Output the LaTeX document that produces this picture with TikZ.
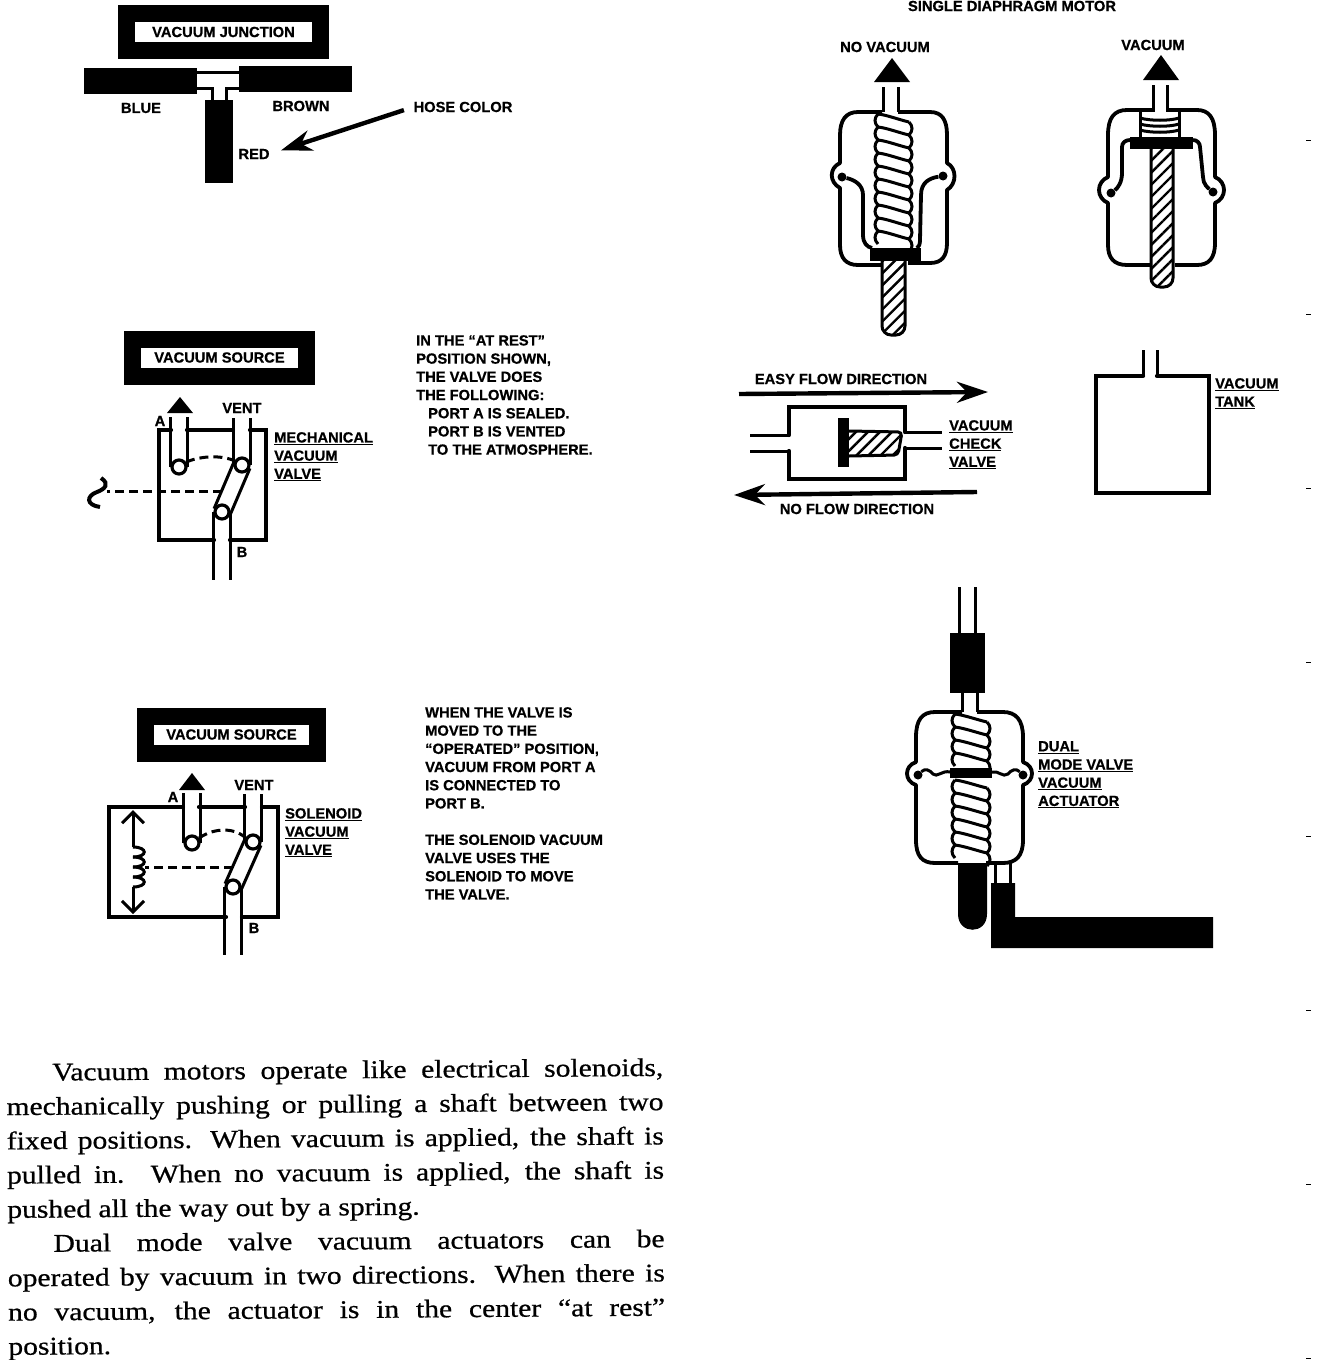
\documentclass[tikz,border=0pt]{standalone}
\usepackage{fontspec}
\setmainfont{Liberation Sans}[BoldFeatures={FakeBold=0.7}]
\newfontfamily\bodyfont[FakeStretch=1.16,FakeBold=0.7]{Liberation Serif}
\usepackage{tikz}
\usetikzlibrary{arrows.meta,patterns.meta,positioning}
\newcommand{\lblfont}{\fontsize{14.7}{18.2}\selectfont\bfseries}
\newcommand{\coilspring}[5]{%
\foreach \n in {1,...,#5} {
\pgfmathsetmacro{\ya}{#3+(\n-1)*#4}
\draw[coilline] (#1,\ya) .. controls (#1+9,\ya+1) and (#2-9,\ya+6) .. (#2,\ya+8);
\draw[coilline] (#1,\ya) .. controls (#1-4,\ya+4) and (#1-4,\ya+#4-4) .. (#1,\ya+#4);
\draw[coilline] (#2,\ya+8) .. controls (#2+4,\ya+12) and (#2+4,\ya+#4+4) .. (#2,\ya+#4+8);
}}
\begin{document}
\begin{tikzpicture}[x=1pt,y=-1pt,
label/.style={inner sep=0pt, font=\lblfont},
tag/.style={inner sep=0pt, anchor=north west, align=left, font=\lblfont},
banner/.style={rectangle, draw, fill=white, line width=17pt, minimum height=37pt, inner sep=0pt, font=\lblfont},
pipe/.style={line width=3pt},
wall/.style={line width=4.2pt, line cap=round},
shell/.style={line width=3.8pt, line join=round},
coilline/.style={line width=3pt},
port/.style={circle, draw, fill=white, line width=3.2pt, minimum size=14pt, inner sep=0pt},
pin/.style={circle, fill=black, minimum size=9pt, inner sep=0pt},
rod/.style={draw, line width=3pt, rounded corners=9pt, pattern={Lines[angle=45,distance=8.5pt,line width=2.4pt]}},
link/.style={line width=3pt, dash pattern=on 9pt off 5pt},
flow/.style={line width=4.4pt, -{Stealth[length=31pt,width=21pt]}}
]
\useasboundingbox (0,0) rectangle (1328,1360);
\node[banner, minimum width=194pt] (junction) at (223.5,32) {\raisebox{-1pt}{VACUUM JUNCTION}};
\fill (84,68) rectangle (197,94);
\fill (239,66) rectangle (352,92);
\fill (205,100) rectangle (233,183);
\draw[pipe] (197,72) -- (239,72);
\draw[pipe] (197,88) -- (212,88) -- (212,100);
\draw[pipe] (239,88) -- (226,88) -- (226,100);
\node[label] (blue) at (141,108) {BLUE};
\node[label] (brown) at (301,106) {BROWN};
\node[label] (red) at (254,154) {RED};
\node[label] (hosecolor) at (463,107) {HOSE COLOR};
\draw[flow, shorten >=12pt, shorten <=10pt] (hosecolor.west) -- (red.east);

\node[banner, minimum width=174pt] (source1) at (219.5,357.5) {\raisebox{-1.5pt}{VACUUM SOURCE}};
\node[port] (a1) at (179,467) {};
\node[port] (vent1) at (242,465) {};
\node[port] (b1) at (222,512) {};
\fill (180,397) -- (167,413) -- (193,413) -- cycle;
\draw[pipe] (a1.west) -- ++(0,-50);
\draw[pipe] (a1.east) -- ++(0,-50);
\draw[pipe] (vent1.west) -- ++(0,-47);
\draw[pipe] (vent1.east) -- ++(0,-47);
\draw[pipe] (b1.157) -- (vent1.157);
\draw[pipe] (b1.-23) -- (vent1.-23);
\draw[pipe] (b1.west) -- ++(0,68);
\draw[pipe] (b1.east) -- ++(0,68);
\draw[wall] (171,430) -- (159,430) -- (159,540) -- (214,540);
\draw[wall] (230,540) -- (266,540) -- (266,430) -- (250,430);
\draw[wall] (187,430) -- (233,430);
\draw[link] (a1.35) .. controls (198,457) and (218,454) .. (vent1.150);
\draw[link] (b1 |- 0,491) -- (107,491);
\draw[line width=4pt] (101,478) .. controls (110,484) and (105,489) .. (97,492) .. controls (86,496) and (86,505) .. (100,507);
\node[label] (vent1txt) at (242,408) {VENT};
\node[label] (a1txt) at (160,421) {A};
\node[label] (b1txt) at (242,552) {B};
\node[tag] (mech) at (274,432) {\underline{MECHANICAL}\\\underline{VACUUM}\\\underline{VALVE}};
\node[tag] (rest) at (416,335) {IN THE “AT REST”\\POSITION SHOWN,\\THE VALVE DOES\\THE FOLLOWING:\\\hspace*{12pt}PORT A IS SEALED.\\\hspace*{12pt}PORT B IS VENTED\\\hspace*{12pt}TO THE ATMOSPHERE.};

\node[banner, minimum width=172pt] (source2) at (231.5,734.5) {\raisebox{-1.5pt}{VACUUM SOURCE}};
\node[port] (a2) at (192,843) {};
\node[port] (vent2) at (253,842) {};
\node[port] (b2) at (233,887) {};
\fill (192,773) -- (179,790) -- (205,790) -- cycle;
\draw[pipe] (a2.west) -- ++(0,-50);
\draw[pipe] (a2.east) -- ++(0,-50);
\draw[pipe] (vent2.west) -- ++(0,-48);
\draw[pipe] (vent2.east) -- ++(0,-48);
\draw[pipe] (b2.157) -- (vent2.157);
\draw[pipe] (b2.-23) -- (vent2.-23);
\draw[pipe] (b2.west) -- ++(0,68);
\draw[pipe] (b2.east) -- ++(0,68);
\draw[wall] (183,807) -- (109,807) -- (109,917) -- (226,917);
\draw[wall] (242,917) -- (278,917) -- (278,807) -- (262,807);
\draw[wall] (199,807) -- (245,807);
\draw[link] (a2.35) .. controls (212,829) and (232,826) .. (vent2.150);
\draw[pipe, -{Straight Barb[length=11pt,width=22pt]}] (133,847) -- (133,810);
\draw[pipe, -{Straight Barb[length=11pt,width=22pt]}] (133,887) -- (133,914);
\foreach \y in {847,857,867,877} {
\draw[pipe] (133,\y) .. controls (148,\y) and (148,\y+10) .. (133,\y+10);
}
\draw[link] (b2 |- 0,867) -- (145,867);
\node[label] (vent2txt) at (254,785) {VENT};
\node[label] (a2txt) at (173,797) {A};
\node[label] (b2txt) at (254,928) {B};
\node[tag] (sol) at (285,808) {\underline{SOLENOID}\\\underline{VACUUM}\\\underline{VALVE}};
\node[tag] (oper) at (425,707) {WHEN THE VALVE IS\\MOVED TO THE\\“OPERATED” POSITION,\\VACUUM FROM PORT A\\IS CONNECTED TO\\PORT B.\\[18.2pt]THE SOLENOID VACUUM\\VALVE USES THE\\SOLENOID TO MOVE\\THE VALVE.};

\node[label] (motor) at (1012,6) {SINGLE DIAPHRAGM MOTOR};
\node[label] (novac) at (885,47) {NO VACUUM};
\node[label] (vac) at (1153,45) {VACUUM};
\fill (892,58) -- (874,82) -- (910,82) -- cycle;
\draw[pipe] (883,87) -- (883,112);
\draw[pipe] (898,87) -- (898,112);
\coilspring{878}{909}{114}{13}{10}
\draw[shell] (882,112) -- (858,112) .. controls (846,112) and (840,120) .. (840,135) -- (840,163) .. controls (829,168) and (829,182) .. (840,188) -- (840,245) .. controls (840,258) and (846,265) .. (858,265) -- (882,265);
\draw[shell] (898,112) -- (930,112) .. controls (942,112) and (947,120) .. (947,135) -- (947,163) .. controls (957,168) and (957,184) .. (947,190) -- (947,243) .. controls (947,256) and (942,263) .. (930,263) -- (908,263);
\node[pin] (pin1) at (842,177) {};
\node[pin] (pin2) at (943,176) {};
\draw[shell] (pin1) .. controls (855,180) and (863,185) .. (863,195) -- (863,235) .. controls (863,243) and (867,247) .. (872,248);
\draw[shell] (pin2) .. controls (930,178) and (921,182) .. (921,195) -- (920,240) .. controls (920,244) and (919,247) .. (917,248);
\draw[rod] (882,261) -- (882,335) -- (905,335) -- (905,261);
\fill (870,248) rectangle (921,261);

\fill (1161,55) -- (1143,80) -- (1179,80) -- cycle;
\draw[pipe] (1153,85) -- (1153,112);
\draw[pipe] (1167,85) -- (1167,112);
\draw[shell] (1153,110) -- (1127,110) .. controls (1114,110) and (1108,118) .. (1108,135) -- (1108,177) .. controls (1096,182) and (1096,198) .. (1108,203) -- (1108,245) .. controls (1108,258) and (1114,265) .. (1127,265) -- (1151,265);
\draw[shell] (1167,110) -- (1197,110) .. controls (1209,110) and (1215,118) .. (1215,135) -- (1215,177) .. controls (1227,182) and (1227,198) .. (1215,203) -- (1215,243) .. controls (1215,258) and (1209,265) .. (1197,265) -- (1175,265);
\draw[coilline] (1140,112) -- (1140,137);
\draw[coilline] (1179,112) -- (1179,137);
\foreach \y in {118,124,130} {
\draw[coilline] (1140,\y) .. controls (1150,\y+3) and (1170,\y+3) .. (1179,\y);
}
\node[pin] (pin3) at (1111,193) {};
\node[pin] (pin4) at (1213,192) {};
\draw[shell] (pin3) .. controls (1118,188) and (1122,182) .. (1122,173) -- (1122,147) .. controls (1122,143) and (1125,140) .. (1130,140);
\draw[shell] (pin4) .. controls (1208,188) and (1203,184) .. (1203,177) -- (1200,147) .. controls (1200,143) and (1197,140) .. (1193,140);
\draw[rod] (1151,149) -- (1151,287) -- (1173,287) -- (1173,149);
\fill (1130,137) rectangle (1193,149);

\coordinate (easyfrom) at (739,394);
\coordinate (easyto) at (988,392);
\coordinate (nofrom) at (977,492);
\coordinate (noto) at (734,495);
\draw[flow] (easyfrom) -- (easyto);
\draw[flow] (nofrom) -- (noto);
\node[label] (easy) at (841,379) {EASY FLOW DIRECTION};
\node[label] (noflow) at (857,509) {NO FLOW DIRECTION};
\draw[wall] (789,435) -- (789,407) -- (905,407) -- (905,432);
\draw[wall] (789,451) -- (789,479) -- (905,479) -- (905,448);
\draw[pipe] (750,435) -- (789,435);
\draw[pipe] (750,451) -- (789,451);
\draw[pipe] (905,432) -- (942,432);
\draw[pipe] (905,448) -- (942,448);
\draw[rod, rounded corners=4pt] (849,431) -- (902,432) -- (898,455) -- (849,456);
\fill (838,418) rectangle (849,467);
\node[tag] (check) at (949,420) {\underline{VACUUM}\\\underline{CHECK}\\\underline{VALVE}};

\draw[wall] (1143,376) -- (1096,376) -- (1096,493) -- (1209,493) -- (1209,376) -- (1157,376);
\draw[pipe] (1143,350) -- (1143,376);
\draw[pipe] (1157,350) -- (1157,376);
\node[tag] (tank) at (1215,378) {\underline{VACUUM}\\\underline{TANK}};

\draw[pipe] (959,587) -- (959,633);
\draw[pipe] (975,587) -- (975,633);
\fill (950,633) rectangle (985,693);
\draw[pipe] (962,693) -- (962,712);
\draw[pipe] (977,693) -- (977,712);
\coilspring{955}{987}{714}{13}{4}
\coilspring{955}{987}{780}{13}{6}
\draw[shell] (962,712) -- (935,712) .. controls (922,712) and (916,720) .. (916,737) -- (916,762) .. controls (904,766) and (904,781) .. (916,785) -- (916,840) .. controls (916,856) and (922,863) .. (935,863) -- (958,863);
\draw[shell] (977,712) -- (1003,712) .. controls (1016,712) and (1023,720) .. (1023,737) -- (1023,762) .. controls (1035,766) and (1035,781) .. (1023,785) -- (1023,840) .. controls (1023,856) and (1016,863) .. (1003,863) -- (986,863);
\node[pin] (pin5) at (918,775) {};
\node[pin] (pin6) at (1023,775) {};
\draw[pipe] (pin5) .. controls (925,768) and (930,770) .. (933,774) .. controls (937,778) and (942,770) .. (950,772);
\draw[pipe] (pin6) .. controls (1016,768) and (1011,770) .. (1008,774) .. controls (1003,778) and (998,770) .. (992,772);
\fill (950,768) rectangle (992,778);
\fill (958,863) -- (958,914) .. controls (958,935) and (987,935) .. (987,914) -- (987,863) -- cycle;
\draw[pipe] (995,863) -- (995,883);
\draw[pipe] (1010,863) -- (1010,883);
\fill (991,883) -- (1015,883) -- (1015,917) -- (1213,917) -- (1213,948) -- (991,948) -- cycle;
\node[tag] (dual) at (1038,741) {\underline{DUAL}\\\underline{MODE VALVE}\\\underline{VACUUM}\\\underline{ACTUATOR}};

\foreach \y in {140,314,488,662,836,1010,1184,1358} {
\draw[line width=1pt] (1306,\y) -- (1311,\y);
}
\node[anchor=north west, inner sep=0pt, rotate=0.44, text width=657pt, align=justify, font=\bodyfont\fontsize{25.5}{34.25}\selectfont] (body) at (6,1063) {\emergencystretch=3em\hspace*{46pt}Vacuum motors operate like electrical solenoids,\linebreak mechanically pushing or pulling a shaft between two\linebreak fixed positions.  When vacuum is applied, the shaft is\linebreak pulled in.  When no vacuum is applied, the shaft is\linebreak pushed all the way out by a spring.\par\hspace*{46pt}Dual mode valve vacuum actuators can be\linebreak operated by vacuum in two directions.  When there is\linebreak no vacuum, the actuator is in the center “at rest”\linebreak position.};
\end{tikzpicture}
\end{document}
